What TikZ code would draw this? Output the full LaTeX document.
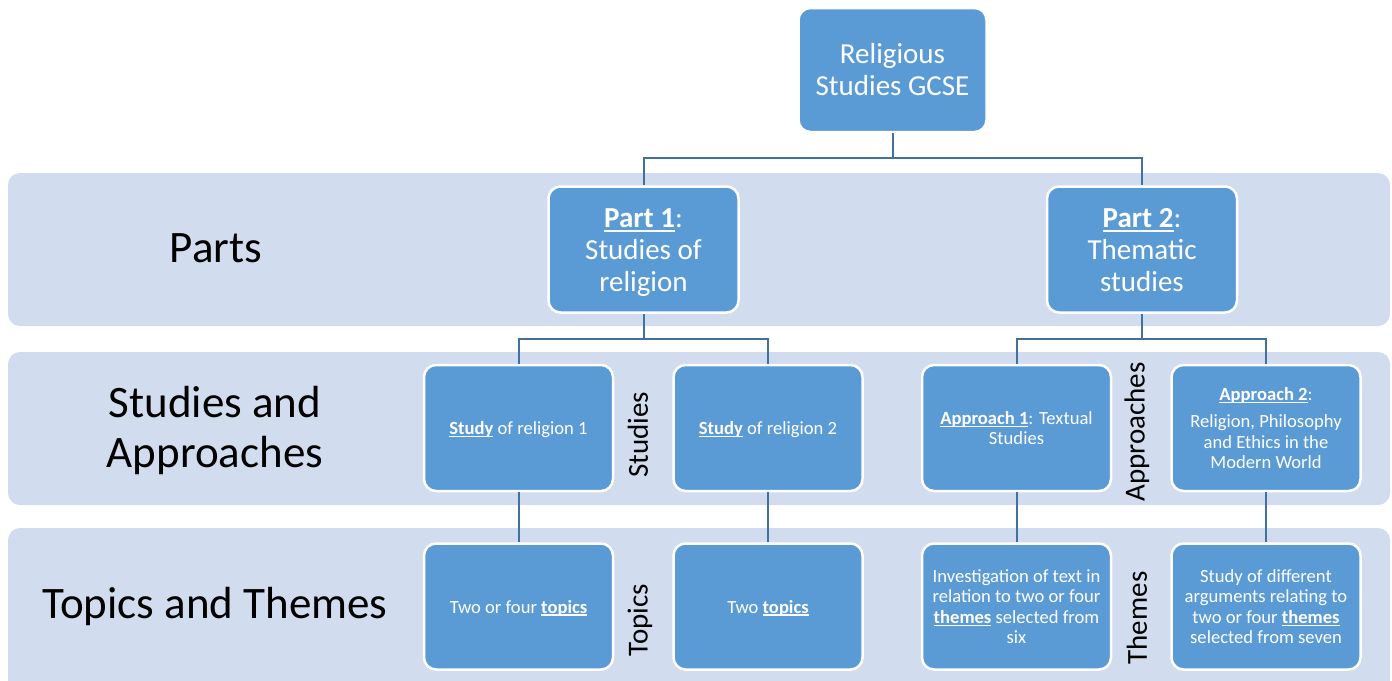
\documentclass[tikz,border=0pt]{standalone}
\usepackage{fontspec}
\setmainfont{Carlito}
\usetikzlibrary{calc}
\definecolor{boxblue}{HTML}{5B9BD5}
\definecolor{bandblue}{HTML}{D1DCEF}
\definecolor{linkblue}{HTML}{41719C}
\newsavebox\ulbbox
\newcommand\ulb[1]{\sbox\ulbbox{\textbf{#1}}\rlap{\usebox\ulbbox}\rule[-0.13em]{\wd\ulbbox}{0.065em}}
\newcommand\tstr{\rule{0pt}{0.97em}}
\newcommand\bstr{\rule[-0.25em]{0pt}{0pt}}
\tikzset{
  band/.style={fill=bandblue, rounded corners=12pt},
  card/.style={draw=white, line width=2.5pt, fill=boxblue, rounded corners=12pt, text=white, align=center, inner sep=0pt},
  bigcard/.style={card, minimum width=190, minimum height=126, font=\fontsize{29}{32}\selectfont},
  smallcard/.style={card, minimum width=189, minimum height=126, font=\fontsize{18.6}{20.5}\selectfont},
  link/.style={draw=linkblue, line width=2pt},
  rowlabel/.style={font=\fontsize{45}{50}\selectfont, align=center, inner sep=0pt},
  sidelabel/.style={font=\fontsize{29}{32}\selectfont, rotate=90, inner sep=0pt},
}
\begin{document}
\begin{tikzpicture}[x=1pt,y=-1pt]
\useasboundingbox (0,0) rectangle (1392,680);
\clip (0,0) rectangle (1392,680);
% bands
\fill[band] (8,173) rectangle (1390,326);
\fill[band] (8,352) rectangle (1390,505);
\fill[band] (8,528) rectangle (1390,700);
% row labels
\node[rowlabel] (lparts) at (216,248) {Parts};
\node[rowlabel] (lstud) at (215,430) {Studies and\\Approaches};
\node[rowlabel] (ltop) at (215,606) {Topics and Themes};
% side labels
\node[sidelabel] (sstud) at (638,435) {Studies};
\node[sidelabel] (stop) at (640,620) {Topics};
\node[sidelabel] (sappr) at (1137,432) {Approaches};
\node[sidelabel] (sthem) at (1137,618) {Themes};
% boxes
\node[bigcard, minimum width=188, minimum height=124] (top) at (892.5,70) {Religious\\Studies GCSE};
\node[bigcard] (p1) at (643.5,249.5) {\tstr\ulb{Part 1}:\\Studies of\\religion\bstr};
\node[bigcard] (p2) at (1142,249.5) {\tstr\ulb{Part 2}:\\Thematic\\studies\bstr};
\node[smallcard] (s1) at (518.5,428) {\tstr\ulb{Study} of religion 1\bstr};
\node[smallcard] (s2) at (768,428) {\tstr\ulb{Study} of religion 2\bstr};
\node[smallcard] (a1) at (1016.5,428) {\tstr\ulb{Approach 1}: Textual\\Studies\bstr};
\node[smallcard] (a2) at (1266,428) {\tstr\ulb{Approach 2}:\\[7pt]Religion, Philosophy\\and Ethics in the\\Modern World\bstr};
\node[smallcard] (t1) at (518.5,606.5) {\tstr Two or four \ulb{topics}\bstr};
\node[smallcard] (t2) at (768,606.5) {\tstr Two \ulb{topics}\bstr};
\node[smallcard] (t3) at (1016.5,606.5) {\tstr Investigation of text in\\relation to two or four\\\ulb{themes} selected from\\six\bstr};
\node[smallcard] (t4) at (1266,606.5) {\tstr Study of different\\arguments relating to\\two or four \ulb{themes}\\selected from seven\bstr};
% connectors
\draw[link] (top.south) -- ++(0,25) coordinate (j0);
\draw[link] (p1.north) |- (j0) -| (p2.north);
\draw[link] (p1.south) -- ++(0,25) coordinate (j1);
\draw[link] (s1.north) |- (j1) -| (s2.north);
\draw[link] (p2.south) -- ++(0,25) coordinate (j2);
\draw[link] (a1.north) |- (j2) -| (a2.north);
\draw[link] (s1.south) -- (t1.north);
\draw[link] (s2.south) -- (t2.north);
\draw[link] (a1.south) -- (t3.north);
\draw[link] (a2.south) -- (t4.north);
\end{tikzpicture}
\end{document}
